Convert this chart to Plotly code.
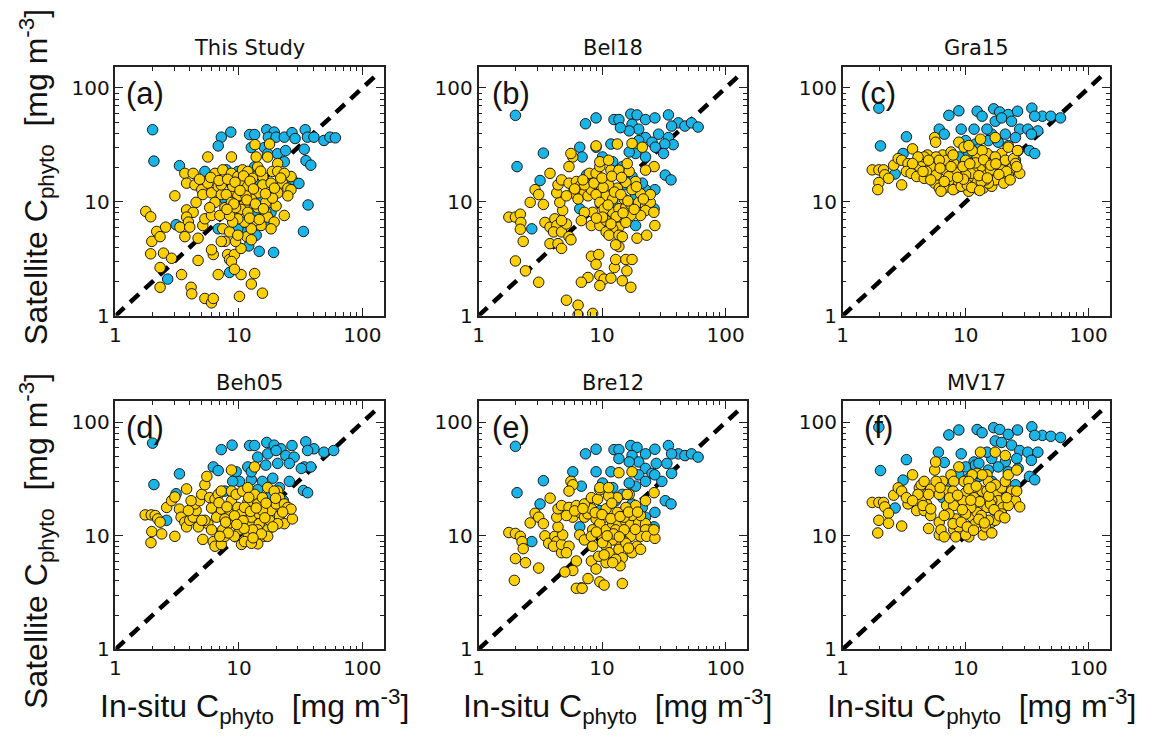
import plotly.graph_objects as go

W, H = 1155, 740

panel_titles = ["This Study", "Bel18", "Gra15", "Beh05", "Bre12", "MV17"]
panel_labels = ["(a)", "(b)", "(c)", "(d)", "(e)", "(f)"]
tick_vals = [1, 10, 100]
tick_text = ["1", "10", "100"]
minor_vals = [2, 3, 4, 5, 6, 7, 8, 9, 20, 30, 40, 50, 60, 70, 80, 90]
one_to_one = [1, 137]

# ---- (a) This Study ----
a_blue = [(2.0,43),(2.05,22.8),(3.3,20.8),(7.2,37),(8.6,41),(6.8,31),(12.2,39),(13.4,39),(16.8,43),(19.3,41),
          (17.3,37),(20,37),(23.3,37),(26.9,40.5),(28.5,36),(34.4,43),(35.9,37),(40.5,37),(48.8,34.6),(54.6,37),
          (60.4,36.5),(33.8,29),(34.9,23),(38.2,21),(12.6,30),(16.1,30),(17.1,26.5),(20.5,26.5),(23.9,28.2),(23.3,22.5),
          (27.1,15.6),(30.6,14.5),(36.3,9.4),(33.3,5.5),(19.1,3.6),(14.6,3.68),(12,4.1),(10.8,5.4),(13.8,5.1),(9.8,5.8),
          (6.8,5.8),(3.1,6.3),(2.65,2.1),(8.4,2.4),(12.6,6.2),(17.1,6.4),(18.2,8.1),(15.1,9.9),(11.1,10.6),(7.7,10.6),
          (8.7,14.6),(11.1,12.8),(13.8,14.1),(13.4,20.3),(9.8,18.5),(7.9,19.1),(5.3,18.5),(6.4,17.2),(15,10.6),(13.4,8.1),(8.9,8.1)]
a_yellow = [(1.76,8.25),(1.93,7.4),(2.16,5.5),(1.97,4.5),(1.93,3.5),(2.55,6.0),(2.3,4.95),(2.3,2.65),(2.45,3.55),(2.85,3.2),
            (2.3,1.78),(3.43,2.3),(3.03,11.3),(3.77,8.5),(4.26,8.1),(3.77,7.35),(3.9,6.65),(3.33,6.0),(4.0,6.0),(3.65,4.95),
            (4.67,4.8),(5.1,6.2),(5.3,7.1),(6.0,7.6),(4.1,1.78),(4.15,1.56),(4.67,3.06),(5.3,1.42),(6.0,1.3),(6.2,1.42),
            (6.2,3.45),(6.0,3.8),(6.8,2.3),(7.4,5.8),(8.1,3.45),(8.4,3.12),(9.2,3.45),(8.7,3.0),(10.4,2.3),(10.1,1.48),
            (12.6,1.9),(13.4,2.35),(15.5,1.58),(9.2,2.56),(10.4,3.9),(9.4,4.5),(7.7,4.5),(11.6,4.95),(8.4,5.45),
            (3.65,17.8),(4.26,17.8),(3.77,14.6),(4.4,14.1),(5.3,15.1),(5.0,12.8),(5.6,14.6),(6.4,17.8),(7.4,19.1),(8.7,24.8),
            (5.6,24.8),(5.1,11.6),(6.0,12),(6.8,13.7),(7.2,11.6),(6.4,9.9),(7.7,8.9),(7.0,7.6),(8.7,17.8),(9.8,16.7),
            (10.7,19.1),(11.8,18.5),(10.4,14.6),(8.9,12),(9.8,11.3),(11.8,13.7),(12.9,16.1),(14.2,20.3),(13.8,24.8),(13.5,31.8),
            (17.1,24.8),(17.7,32.2),(18.7,18.5),(20.6,21.7),(20.6,18.5),(15.6,16.7),(15.6,14.1),(18.2,14.6),(22.6,14.6),(24.9,13.2),
            (26.4,12.8),(20.6,12),(17.1,11.3),(14.2,12),(12.6,10.6),(11.1,9.5),(10.4,8.6),(11.8,8.1),(14.2,8.9),(16.5,8.1),
            (17.1,7.35),(19.3,6.65),(18.2,5.8),(15.1,6.2),(13.4,6.85),(12.6,5.8),(11.1,6.65),(9.8,7.1),(8.9,6.65),(8.4,7.6),
            (9.4,8.9),(23.3,7.6),(20,9.2),(12.6,4.65),(9.8,5.1),(24.9,11.3),(7.2,14.1),(4.5,9.9),(5.8,8.9),(26.4,16.7),
            (23.3,17.8),(8.9,13.7),(7.9,11.6),(11.4,11.3),(16.5,9.9),(18.7,10.8),(8.7,9.9),(7.2,4.5),
            (4.8,15.8),(5.9,16.4),(6.9,15.4),(8.1,15.8),(9.3,14.9),(10.9,16.9),(12.3,15.2),(13.1,13.0),(10.2,12.6),(11.6,10.4),
            (13.6,9.6),(15.8,8.7),(9.1,9.6),(8.0,8.6),(12.2,7.2),(14.6,7.0),(16.4,11.8),(19.4,13.2),(21.8,16.2),(15.0,18.6)]

# ---- (b) Bel18 ----
b_blue = [(1.99,57.5),(2.05,20.4),(3.35,26.8),(3.15,15.4),(7.35,48.5),(8.95,54.6),(12.5,52.8),(13.7,52.8),(17.1,59),(19.2,58),
          (22.5,52.8),(26.8,54.6),(34.5,58),(41.5,49.4),(46.9,46.3),(53,49.4),(60,45.4),(36.6,46.3),(17.5,48),(19.8,43.5),
          (16.6,42),(14.1,44.8),(22.5,36.7),(19.8,34.5),(25.4,33.4),(28.7,39.3),(34.5,36.7),(37.7,31.8),(32.2,32.2),(27,30.2),
          (31.5,26.6),(22.5,24.8),(18.7,26.6),(16.6,27.4),(11.8,32.2),(8.95,30.2),(6.6,30.2),(6.9,24.8),(10.1,24.8),(12.2,22.5),
          (14.6,20.4),(12.9,18.5),(17.5,16.7),(32.5,17.2),(36.2,15.6),(26.8,12.8),(22.5,12.8),(18.7,11.3),(12.2,9.9),(10.8,8.1),
          (15.6,7.1),(6.6,8.7),(2.7,5.8),(7.5,17.2),(9.6,15.6),(15.1,14.1),(15.1,16.7),(21.2,14.6),(26.4,8.7),(18.7,6.2)]
b_yellow = [(1.76,7.35),(1.99,7.35),(2.18,7.8),(2.2,6.6),(2.18,5.75),(2.3,4.5),(1.99,3.03),(2.4,2.48),(3.07,1.97),(2.62,9.9),
            (2.87,12.8),(3.07,11.6),(3.35,9.5),(3.79,17.8),(3.45,6.6),(3.79,6.0),(4.15,7.1),(4.3,6.2),(4.05,5.45),(4.7,5.45),
            (3.79,4.3),(4.4,4.3),(4.7,3.9),(5.4,4.95),(5.6,4.65),(5.15,6.4),(4.8,8.4),(4.55,9.9),(4.3,12),(4.4,14.1),
            (4.7,15.6),(5.4,14.6),(5.8,12),(5.15,11.3),(6.2,15.1),(6.6,13.7),(5.8,24.8),(5.6,26.6),(5.4,20.4),(7.2,12),
            (6.4,10.6),(7.7,11.3),(8.2,12.8),(7.2,14.1),(7.9,17.8),(8.95,17.8),(9.6,20.4),(9.6,22.5),(8.95,31),(11.8,19),
            (13.7,19),(16.6,18.5),(13.3,32.2),(17.5,32.6),(21.2,30.2),(18.7,15.1),(15.6,14.8),(13.3,13.2),(11.3,14.1),(10.8,11.3),
            (8.95,11.6),(9.6,9.9),(8.4,8.1),(7.2,8.1),(6.8,6.85),(8.2,6.2),(9.6,6.2),(10.8,6.85),(12.2,8.1),(13.7,8.7),
            (15.6,9.0),(17.1,9.5),(19.8,9.9),(22.5,9.2),(24.6,9.9),(22.5,8.4),(20.5,7.6),(17.1,7.6),(15.1,6.6),(13.7,6.0),
            (12.2,5.8),(10.8,5.45),(11.4,5.1),(13.7,5.1),(14.6,4.95),(15.6,6.6),(19.2,4.8),(23,5.1),(26.8,6.2),(26.3,8.1),
            (13.7,4.05),(12.9,4.2),(8.2,3.33),(9.4,3.45),(8.95,2.83),(9.6,2.25),(10.4,2.1),(7.7,2.17),(6.8,1.97),(9.6,1.84),
            (11.8,2.14),(12.6,2.65),(12.9,3.12),(15.6,3.12),(17.5,3.12),(15.9,2.48),(14.6,2.03),(17.1,1.78),(5.15,1.37),(6.4,1.24),
            (6.4,1.02),(8.4,1.05),(20.5,11.8),(17.5,12.8),(15.1,10.6),(12.2,10.6),(10.4,8.7),(10.1,7.35),(24.6,11.6),(26.4,20.4),
            (22.5,19),(16,21.7),(11.3,23.2),(4.7,6.85),
            (6.0,13.0),(7.0,15.6),(8.6,14.6),(10.2,13.4),(12.6,12.2),(14.2,11.6),(16.2,10.2),(11.2,9.4),(13.0,7.4),(14.8,8.0),
            (18.2,8.6),(10.0,16.2),(12.0,16.8),(14.4,16.4),(19.0,13.6),(21.6,10.6),(9.0,7.2),(11.8,6.4)]

# ---- (c) Gra15 ----
c_blue = [(1.97,66.5),(2.03,31),(3.3,37.3),(3.1,26.6),(7.3,57.5),(8.8,63),(12.4,62.5),(13.6,56.5),(16.9,65.6),(18.9,61.6),
          (22.2,58.5),(26.4,62.5),(34.5,66.5),(42,56.5),(49.2,56.5),(59,54.6),(36.4,56.5),(17.4,51),(19.6,54.6),(23.6,51),
          (27.5,43.5),(32,43.5),(38.6,42),(34.2,39.3),(25.4,36.7),(21,39.3),(16.3,39.3),(14.9,43.5),(11.7,43.5),(9.2,43.5),
          (6.1,43.5),(6.7,39.3),(10,34.5),(12,32.2),(15.3,34.5),(18.4,33.4),(22.2,31.2),(33,28.2),(36.4,26.6),(26.7,28.2),
          (6.5,21),(7.3,23.2),(8.8,24.8),(10.6,26.6),(12.8,24.8),(16.3,24.8),(2.67,17.6),(25.4,23.2),(21,20.4),(12.8,29.2)]
c_yellow = [(1.74,19.1),(1.97,19.1),(2.15,19.1),(2.2,17.3),(2.36,16.1),(1.97,14.8),(1.93,12.8),(3.02,14.1),(2.6,21),(2.83,24),
            (3.02,23.2),(3.4,21.7),(3.3,18.5),(3.7,29.2),(3.6,17.8),(4.0,16.7),(4.2,20.4),(4.5,22.5),(4.6,16.1),(4.9,25.8),
            (5.2,20.4),(4.8,18.5),(5.6,14.6),(5.75,17.2),(5.6,36.7),(5.7,33.4),(6.1,13.2),(6.5,25.8),(7.0,23.2),(7.6,27.4),
            (7.0,18.5),(6.7,13.2),(6.3,12.4),(8.0,15.1),(8.3,13.2),(8.8,14.6),(8.3,18.5),(8.8,33.4),(9.7,30.2),(10,23.2),
            (10.3,19.1),(10.6,12.4),(11.3,15.6),(12,14.1),(11.7,19.1),(13.2,35.5),(12.4,24.8),(13.6,20.4),(14.9,26.6),(15.3,21.7),
            (14.9,17.3),(12.4,14.8),(13.9,13.2),(16.3,13.7),(17.4,36.7),(17.9,23.2),(19.6,26.6),(18.4,20.4),(16.3,17.8),(20.1,16.7),
            (21,23.2),(22.2,30.2),(24.5,24),(26.4,28.2),(23.6,19.7),(25.4,21.7),(27.5,17.8),(22.2,17.2),(19.6,19.1),(17.4,15.6),
            (15.3,14.6),(14.5,15.6),(11,17.8),(10,17.2),(8.0,21.7),(7.3,16.7),(5.75,24.8),(4.6,24.8),(4.1,24.8),(3.7,21.7),
            (7.9,12.8),(9.2,13.7),(10.3,14.1),(13.4,15.1),(15.9,19.1),(21.5,18.5),(26,20.4),(17.4,24.8),(13.6,28.2),(11.3,28.2),
            (10.6,31.2),(7.9,25.8),(6.1,23.2),(5.0,23.2),(4.5,18.5),(5.2,15.6),(6.7,15.1),(9.5,20.4),
            (12.0,22.0),(14.0,23.4),(16.0,21.0),(18.6,17.4),(11.2,13.4),(9.6,15.8),(12.8,17.0),(15.0,16.2),(17.6,21.6),(20.4,14.6),
            (23.0,15.6),(13.0,12.6),(8.6,16.4),(6.2,19.8),(7.6,20.4),(10.8,21.6)]

# ---- (d) Beh05 ----
d_blue = [(2.0,65.6),(2.05,28.3),(3.3,35.2),(3.1,23.5),(7.2,57.5),(8.8,63),(12.2,62.5),(13.4,62.5),(16.8,66.5),(19.3,63),
          (21.9,58.5),(26.9,62.5),(34.8,67.4),(40.5,58.5),(48.8,54.6),(58.5,56.5),(36,56.5),(17.1,52.8),(20,56.5),(24,51),
          (28,49.4),(33.8,40.5),(38.2,40.5),(32,39.3),(25.6,43.5),(20.6,43.5),(16.5,42),(14.2,49.4),(11.8,40.5),(9.5,36.7),
          (6.2,40.5),(6.8,37.6),(10.1,30.2),(12.6,31.2),(15.5,30.2),(18.8,32.2),(21.3,26.6),(25.6,30.2),(33.3,25.1),(36,24),
          (22.9,20.4),(8.9,30.2),(7.7,24.8),(6.4,17.2),(2.6,13.7),(14.2,25.5),(18.2,23.2),(12.6,36.7)]
d_yellow = [(1.74,15.3),(1.95,15.3),(2.1,15.1),(2.2,14.1),(2.3,13.2),(1.97,10.9),(1.94,8.7),(2.37,10.4),(3.03,9.9),(2.6,17.8),
            (2.85,20.4),(3.03,22),(3.77,25.9),(3.3,17.2),(3.4,14.6),(3.65,13.2),(3.77,12),(4.0,13.7),(4.26,14.6),(4.5,16.7),
            (4.4,19.1),(4.8,20.4),(5.0,23.2),(5.3,28.2),(5.5,33.4),(5.1,9.3),(5.6,12.8),(5.3,13.7),(5.8,21.7),(6.4,21),
            (6.8,23.2),(7.2,24.8),(6.6,14.6),(6.0,11.3),(6.2,8.9),(6.4,8.1),(7.2,8.4),(7.7,9.9),(7.4,11.3),(8.2,12.8),
            (8.4,15.6),(8.7,20.4),(8.7,24.8),(8.7,38),(9.5,23.2),(9.8,17.8),(10.4,15.6),(10.1,11.3),(9.2,9.9),(10.5,8.4),
            (11.8,10.6),(12.2,12.8),(12.6,14.6),(11.8,19.7),(13.4,23.2),(13.4,40.5),(14.2,19.1),(14.6,15.6),(14.6,12.8),(14.2,11.3),
            (14.2,8.5),(16.1,9.9),(17.1,11.3),(17.7,13.7),(18.2,16.7),(17.1,26.6),(20.6,24.8),(21.3,21.7),(20,19.1),(23.3,19.1),
            (24.9,17.8),(21.3,15),(23.3,12.8),(27.1,14.1),(20.6,12.8),(17.1,9.9),(11.1,8.9),(12.6,8.6),(8.2,10.6),(7,9.9),
            (4.7,12),(5.0,13.7),(10.7,24.8),(11.8,26.6),(11.1,17.8),(15.5,21.7),(15.5,16.7),(12.9,11.3),(26.4,17.2),(19.3,24.8),
            (7.2,17.2),(7.7,14.1),(3.9,16.7),(4.1,20.4),
            (6.0,17.6),(6.9,19.6),(8.0,18.0),(9.2,15.0),(10.8,13.6),(12.4,16.4),(13.8,17.6),(16.2,14.4),(18.8,12.0),(15.2,10.4),
            (13.0,9.6),(11.0,11.6),(9.6,12.6),(7.8,13.2),(19.8,21.4),(22.6,16.2),(16.6,19.4),(12.0,21.8)]

# ---- (e) Bre12 ----
e_blue = [(1.99,61.5),(2.05,24),(3.35,30.6),(3.15,19.1),(7.35,52.8),(8.95,58),(12.5,57.5),(13.7,57.5),(17.1,62.5),(19.2,60.2),
          (22.5,52.8),(26.8,58),(34.5,62.5),(41.5,52.8),(46.9,51),(53,52.8),(60,49.4),(36.6,52.8),(17.5,51),(19.8,44.8),
          (16.6,44.8),(13.7,47.9),(22.5,39.3),(19.8,34.5),(25.4,35.5),(27.5,43.5),(33.5,43.5),(36.6,35.5),(30.5,30.2),(26.7,34.5),
          (22.5,30.2),(18.7,27.4),(16.6,29.2),(11.8,36.7),(8.95,36.7),(5.8,36.7),(6.8,27.4),(10.1,29.2),(12.2,26.6),(14.6,23.2),
          (12.9,20.4),(17.5,19.1),(32.5,20.4),(36.2,19.1),(26.8,16.1),(22.5,14.6),(18.7,13.7),(12.2,12),(6.6,12),(2.7,8.9),
          (7.5,19.1),(9.6,16.7),(15.1,16.7),(21.2,17.8),(26.4,12)]
e_yellow = [(1.76,10.7),(1.99,10.5),(2.18,9.9),(2.25,8.9),(2.3,7.7),(1.99,6.3),(2.4,5.8),(1.95,4.05),(3.07,5.2),(2.62,13),
            (2.87,15.8),(3.07,14.6),(3.35,12.8),(3.8,21.5),(3.45,10),(3.7,8.6),(4.15,9.9),(4.3,8.9),(4.05,8.1),(4.7,7.1),
            (4.7,8.4),(5.4,8.1),(5.15,7.1),(4.8,10.2),(4.4,12),(4.3,14.6),(4.4,17.3),(4.7,18.5),(5.4,17.8),(5.8,14.6),
            (5.15,15.1),(6.2,18.5),(6.6,16.1),(5.6,30.2),(5.8,28.2),(5.4,24.8),(7.2,14.6),(6.6,10.2),(7.7,15.6),(8.2,17.3),
            (7.2,19.1),(8.2,21.7),(9.2,21),(9.6,25.5),(9.6,26.6),(13.7,36),(17.5,36.7),(16.6,23.2),(13.3,21.7),(11.3,22.5),
            (18.7,18.5),(15.6,17.8),(13.3,16.1),(10.8,17.3),(10.4,14.6),(8.95,14.1),(9.6,12.8),(8.4,11.3),(7.2,9.2),(8.2,9.9),
            (10.1,9.9),(10.8,11.3),(12.2,12.8),(13.7,12.8),(15.6,13.2),(17.1,12.8),(19.8,13.2),(22.5,12.8),(24.6,11.3),(22.5,11.3),
            (20.5,9.9),(17.1,9.9),(15.1,8.9),(13.7,8.6),(12.2,9.2),(10.8,8.1),(11.4,7.1),(13.7,7.6),(14.6,6.4),(15.6,8.6),
            (19.2,8.1),(23,9.9),(26.8,9.5),(26.3,11.3),(14,5.45),(12.9,6.2),(8.2,6.0),(9.4,6.6),(8.95,5.1),(9.6,3.93),
            (10.4,3.68),(7.7,4.2),(6.8,3.48),(6.2,6.0),(5.8,4.95),(5.0,4.8),(14.6,3.8),(6.2,3.45),(6.9,3.45),(10.8,5.8),
            (12.2,5.8),(17.5,7.1),(20.5,15.1),(17.5,15.1),(15.1,14.6),(26.4,24),(22.5,20.4),(16,23.2),(11.3,26.6),(20.5,7.6),
            (8.4,8.1),(10.1,8.7),(12.9,11.3),(15.1,11.3),
            (6.0,16.6),(7.0,17.4),(8.8,16.0),(10.0,15.4),(11.8,14.2),(14.0,14.8),(16.4,16.2),(18.6,11.4),(12.4,10.4),(11.0,10.0),
            (9.0,10.8),(13.8,9.8),(16.4,7.8),(10.4,6.8),(19.4,16.2),(12.0,19.4)]

# ---- (f) MV17 ----
f_blue = [(1.97,90.6),(2.03,37.6),(3.3,46.9),(3.1,31),(7.3,77.5),(8.8,85.7),(12.4,86.5),(13.6,81),(16.9,89.8),(18.9,86.5),
          (22.2,78.5),(26.4,85.7),(34.5,91.4),(42,76.8),(49.2,75.4),(59,73.6),(36.4,76.8),(17.4,68.6),(19.6,66.5),(23.6,63),
          (27.5,56.5),(32,54.6),(38.6,54.6),(34.2,46.3),(26,48),(21,44.8),(16.3,48),(14.9,54.6),(11.7,44.8),(9.2,52.8),
          (6.0,54.6),(6.7,44.3),(10,40.5),(12,42),(15.3,38),(18.4,40.5),(22.2,36.7),(33,33.4),(36.4,31.2),(26.7,39.3),
          (6.5,21.7),(7.3,26.5),(8.8,34.5),(10.6,32.2),(12.8,33.4),(16.3,30.2),(2.67,17.6),(25.4,28.2),(21,24.8),(12.8,43.5)]
f_yellow = [(1.74,19.7),(1.97,19.7),(2.15,19.7),(2.2,18),(2.36,15.8),(1.97,13.7),(1.93,10.6),(2.36,12.9),(3.02,12.2),(2.6,22.8),
            (2.83,26.5),(3.02,24.8),(3.4,19.1),(3.7,34.5),(3.3,21.7),(4.0,16.7),(4.2,26.5),(4.35,28.2),(4.6,16.7),(4.6,30.2),
            (5.2,25.8),(4.8,19.1),(5.2,15.1),(5.0,11.6),(5.6,38),(5.7,44.8),(6.1,13.2),(6.1,10.2),(6.5,30.2),(7.0,24.8),
            (7.6,34.5),(7.0,18.5),(6.3,11.3),(6.7,9.8),(8.0,11.3),(8.3,14.1),(8.8,12),(8.3,9.8),(8.0,18.5),(8.8,40.5),
            (9.7,30.2),(10,24),(10.3,19.1),(10.6,9.8),(10,10.2),(11.3,14.6),(12,12.8),(11.7,21.7),(13.2,54.6),(12.4,35.5),
            (13.6,24.8),(14.9,34.5),(15.3,30.2),(14.9,17.8),(12.4,16.1),(13.9,10.2),(16.3,13.2),(17.4,54.6),(21,51),(17.9,24),
            (19.6,26.5),(18.4,20.4),(16.3,20.4),(20.1,17.8),(21,30.2),(22.2,34.5),(23.6,24.8),(26,38),(23.6,21),(25.4,20.4),
            (27.5,18),(22.2,18.5),(19.6,15.6),(17.4,13.7),(15.3,13.7),(14.5,12),(11,17.8),(10,15.6),(8.0,30.2),(7.3,15.6),
            (5.75,30.2),(4.35,20.4),(4.1,23.2),(3.7,20.4),(7.9,12.8),(9.2,13.2),(10.3,12),(13.4,15.1),(15.9,19.1),(21.5,21.7),
            (26,24.8),(17.4,28.2),(13.6,34.5),(11.3,34.5),(10.6,30.2),(7.9,24.8),(6.1,23.2),(5.0,23.2),(4.5,18.5),(5.2,17.3),
            (6.7,15.1),(9.5,20.4),(14.9,24.8),(16.3,10.6),
            (6.2,26.6),(7.4,21.6),(8.6,22.8),(10.6,26.0),(12.2,27.4),(13.0,20.0),(15.4,22.4),(17.0,17.0),(18.8,15.0),(11.6,11.2),
            (12.8,14.0),(9.4,17.0),(20.8,14.4),(14.2,13.0),(16.0,26.8),(11.0,20.6)]

blue_sets = [a_blue, b_blue, c_blue, d_blue, e_blue, f_blue]
yellow_sets = [a_yellow, b_yellow, c_yellow, d_yellow, e_yellow, f_yellow]

BLUE = "#1bb4e6"
YELLOW = "#ffd000"
EDGE = "#1a1a1a"
FONT = "DejaVu Sans"
FONT2 = "Liberation Sans"

cols_px = [(110, 380), (475, 745), (841, 1110)]
rows_px = [(68, 321), (408, 660)]
label_dx = [30, 33, 36]

fig = go.Figure()
annotations = []
layout_axes = {}

for i in range(6):
    r, c = divmod(i, 3)
    n = i + 1
    xs = "x" if n == 1 else f"x{n}"
    ys = "y" if n == 1 else f"y{n}"
    xl, xr = cols_px[c]
    yt, yb = rows_px[r]

    fig.add_trace(go.Scatter(
        x=one_to_one, y=one_to_one, mode="lines", xaxis=xs, yaxis=ys,
        line=dict(color="black", width=4.5, dash="12px,8px"), showlegend=False, hoverinfo="skip"))
    bx, by = zip(*blue_sets[i])
    fig.add_trace(go.Scatter(
        x=list(bx), y=list(by), mode="markers", xaxis=xs, yaxis=ys, showlegend=False,
        marker=dict(size=10.5, color=BLUE, line=dict(color=EDGE, width=1))))
    yx, yy = zip(*yellow_sets[i])
    fig.add_trace(go.Scatter(
        x=list(yx), y=list(yy), mode="markers", xaxis=xs, yaxis=ys, showlegend=False,
        marker=dict(size=10.5, color=YELLOW, line=dict(color=EDGE, width=1))))

    common = dict(
        type="log", showgrid=False, zeroline=False, showline=True, linecolor="#222", linewidth=1.5,
        mirror="ticks", ticks="inside", ticklen=8, tickwidth=1.2, tickcolor="#222",
        tickmode="array", tickvals=tick_vals, ticktext=tick_text,
        tickfont=dict(family=FONT, size=20, color="#111"),
        minor=dict(ticks="inside", ticklen=4, tickwidth=1, tickcolor="#222",
                   tickmode="array", tickvals=minor_vals, showgrid=False),
    )
    xkey = "xaxis" if n == 1 else f"xaxis{n}"
    ykey = "yaxis" if n == 1 else f"yaxis{n}"
    layout_axes[xkey] = dict(common, domain=[xl / W, xr / W], range=[0, 2.175], anchor=ys)
    layout_axes[ykey] = dict(common, domain=[1 - yb / H, 1 - yt / H], range=[0, 2.185], anchor=xs)

    # panel title
    annotations.append(dict(text=panel_titles[i], xref="paper", yref="paper",
                            x=(xl + xr) / 2 / W, y=1 - (yt - 19) / H, xanchor="center", yanchor="middle",
                            showarrow=False, font=dict(family=FONT, size=21, color="#111")))
    # panel label
    annotations.append(dict(text=panel_labels[i], xref="paper", yref="paper",
                            x=(xl + label_dx[c]) / W, y=1 - (yt + 27) / H, xanchor="center", yanchor="middle",
                            showarrow=False, font=dict(family=FONT2, size=31, color="#111")))

ytitle = "Satellite C<sub>phyto</sub>  [mg m<sup>-3</sup>]"
xtitle = "In-situ C<sub>phyto</sub>  [mg m<sup>-3</sup>]"
for ypx in [180, 550]:
    annotations.append(dict(text=ytitle, xref="paper", yref="paper", x=30 / W, y=1 - ypx / H,
                            xanchor="center", yanchor="middle", textangle=-90, showarrow=False,
                            font=dict(family=FONT2, size=32, color="#111")))
for xpx in [250, 615, 981]:
    annotations.append(dict(text=xtitle, xref="paper", yref="paper", x=xpx / W, y=1 - 718 / H,
                            xanchor="center", yanchor="middle", showarrow=False,
                            font=dict(family=FONT2, size=32, color="#111")))

fig.update_layout(width=W, height=H, margin=dict(l=0, r=0, t=0, b=0),
                  paper_bgcolor="white", plot_bgcolor="white",
                  annotations=annotations, **layout_axes)

fix_page = (
    "document.documentElement.style.margin='0';document.documentElement.style.overflow='hidden';"
    "document.body.style.margin='0';document.body.style.overflow='hidden';"
    "var gd=document.getElementById('{plot_id}');gd.style.position='fixed';gd.style.left='0px';gd.style.top='0px';"
)
fig.write_html("out.html", config={"displayModeBar": False}, post_script=fix_page)
